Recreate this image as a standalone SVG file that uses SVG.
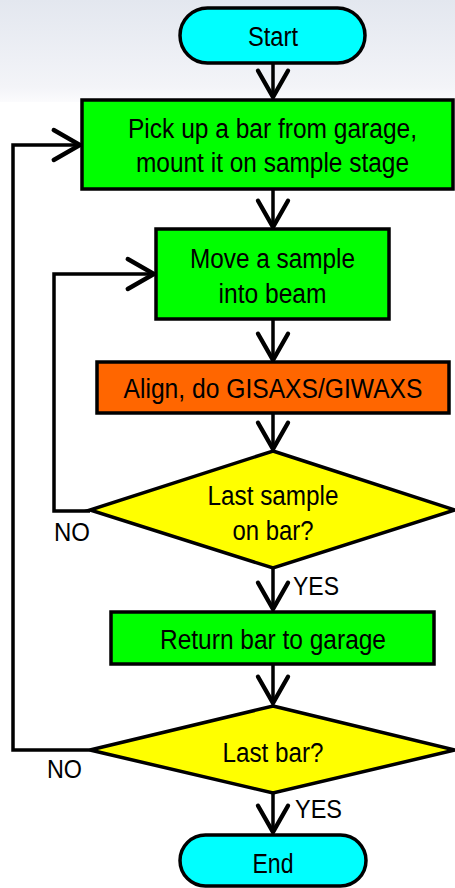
<svg xmlns="http://www.w3.org/2000/svg" width="455" height="888" viewBox="0 0 455 888">
<defs>
<linearGradient id="bg" x1="0" y1="0" x2="0" y2="1">
<stop offset="0" stop-color="#e3e7ef"/>
<stop offset="0.85" stop-color="#f3f4f8"/>
<stop offset="1" stop-color="#fbfbfd"/>
</linearGradient>
<marker id="ah" markerUnits="userSpaceOnUse" markerWidth="40" markerHeight="40" viewBox="-26 -16 32 32" refX="0" refY="0" orient="auto" overflow="visible">
<path d="M-21,-12 L0,0 L-21,12" fill="none" stroke="#000" stroke-width="3.5" stroke-linecap="round"/>
</marker>
</defs>
<style>
.box{stroke:#000;stroke-width:3.5}
.green{fill:#00ff00}
.cyan{fill:#00ffff}
.orange{fill:#ff6600}
.yellow{fill:#ffff00}
.t{font-family:"Liberation Sans",Arial,sans-serif;font-size:27px;fill:#000;text-anchor:middle}
.lbl{font-family:"Liberation Sans",Arial,sans-serif;font-size:25px;fill:#000}
.c{fill:none;stroke:#000;stroke-width:3.5;marker-end:url(#ah)}
</style>
<rect x="0" y="0" width="455" height="102" fill="url(#bg)"/>
<rect x="0" y="102" width="455" height="786" fill="#ffffff"/>
<g id="connectors">
<path class="c" d="M273,63 L273,97"/>
<path class="c" d="M273,190 L273,227"/>
<path class="c" d="M273,319 L273,360"/>
<path class="c" d="M273,413 L273,449"/>
<path class="c" d="M273,568 L273,609"/>
<path class="c" d="M273,664 L273,703"/>
<path class="c" d="M273,793 L273,832"/>
<path class="c" d="M90,511 L54,511 L54,274 L154,274"/>
<path class="c" d="M90,750 L13,750 L13,145 L80,145"/>
<text class="lbl" x="54" y="541" textLength="36" lengthAdjust="spacingAndGlyphs">NO</text>
<text class="lbl" x="293" y="595" textLength="46" lengthAdjust="spacingAndGlyphs">YES</text>
<text class="lbl" x="47" y="778" textLength="35" lengthAdjust="spacingAndGlyphs">NO</text>
<text class="lbl" x="295" y="818" textLength="47" lengthAdjust="spacingAndGlyphs">YES</text>
</g>
<g id="start">
<rect class="box cyan" x="180" y="8" width="185" height="55" rx="27.5"/>
<text class="t" x="273" y="46" textLength="50" lengthAdjust="spacingAndGlyphs">Start</text>
</g>
<g id="pickup">
<rect class="box green" x="82" y="100" width="371" height="89"/>
<text class="t" x="272.5" y="138" font-size="25" textLength="289" lengthAdjust="spacingAndGlyphs">Pick up a bar from garage,</text>
<text class="t" x="272.5" y="172" font-size="25" textLength="273" lengthAdjust="spacingAndGlyphs">mount it on sample stage</text>
</g>
<g id="move">
<rect class="box green" x="156" y="229" width="233" height="90"/>
<text class="t" x="272.5" y="268" textLength="165" lengthAdjust="spacingAndGlyphs">Move a sample</text>
<text class="t" x="272.5" y="303" textLength="108" lengthAdjust="spacingAndGlyphs">into beam</text>
</g>
<g id="align">
<rect class="box orange" x="97" y="362" width="352" height="51"/>
<text class="t" x="273" y="398" textLength="299" lengthAdjust="spacingAndGlyphs">Align, do GISAXS/GIWAXS</text>
</g>
<g id="lastsample">
<polygon class="box yellow" points="273,451 455,510 273,568 90,510"/>
<text class="t" x="273" y="505" textLength="131" lengthAdjust="spacingAndGlyphs">Last sample</text>
<text class="t" x="273" y="540" textLength="81" lengthAdjust="spacingAndGlyphs">on bar?</text>
</g>
<g id="return">
<rect class="box green" x="111" y="612" width="323" height="52"/>
<text class="t" x="273" y="649" textLength="226" lengthAdjust="spacingAndGlyphs">Return bar to garage</text>
</g>
<g id="lastbar">
<polygon class="box yellow" points="273,706 455,750 273,793 90,750"/>
<text class="t" x="273" y="762" textLength="101" lengthAdjust="spacingAndGlyphs">Last bar?</text>
</g>
<g id="end">
<rect class="box cyan" x="180" y="835" width="186" height="51" rx="25.5"/>
<text class="t" x="273" y="873" textLength="41" lengthAdjust="spacingAndGlyphs">End</text>
</g>
</svg>
